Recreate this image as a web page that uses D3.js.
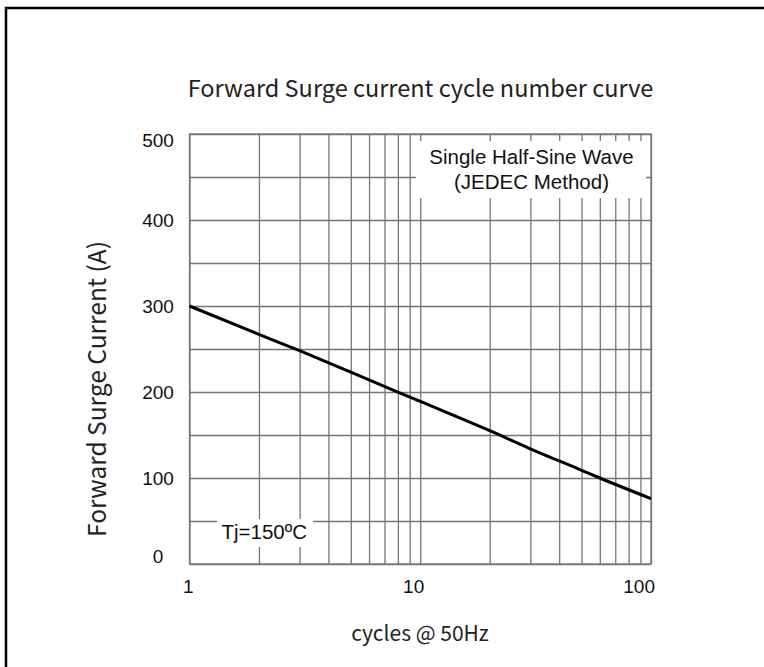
<!DOCTYPE html>
<html>
<head>
<meta charset="utf-8">
<script src="https://cdn.jsdelivr.net/npm/d3@7"></script>
<style>
  body { margin: 0; background: #fff; overflow: hidden; }
  svg { display: block; }
</style>
</head>
<body>
<div id="chart"></div>
<script>
// surge current vs number of cycles
const cycles = [1, 2, 3, 5, 10, 20, 30, 50, 60, 100];
const surgeAmps = [300, 267, 248, 223, 189, 155, 134, 109, 100, 76];

const xTickValues = [1, 10, 100];
const xTickLabels = ["1", "10", "100"];
const yTickValues = [0, 100, 200, 300, 400, 500];
const yTickLabels = ["0", "100", "200", "300", "400", "500"];
const xGridValues = [1, 2, 3, 4, 5, 6, 7, 8, 9, 10, 20, 30, 40, 50, 60, 70, 80, 90, 100];
const yGridValues = [0, 50, 100, 150, 200, 250, 300, 350, 400, 450, 500];

const width = 764, height = 667;
const plotLeft = 189.5, plotRight = 651, plotTop = 134, plotBottom = 564;

const svg = d3.select("#chart").append("svg")
  .attr("width", width)
  .attr("height", height);

// outer frame: only the left and top edges are in view
svg.append("path")
  .attr("d", `M6,${height + 5}V8H${width + 5}`)
  .attr("fill", "none")
  .attr("stroke", "#000")
  .attr("stroke-width", 2.5);

const x = d3.scaleLog().domain([1, 100]).range([plotLeft, plotRight]);
const y = d3.scaleLinear().domain([0, 500]).range([plotBottom, plotTop]);

// grid via axes
const gx = svg.append("g")
  .attr("transform", `translate(0,${plotBottom})`)
  .call(d3.axisBottom(x).tickValues(xGridValues).tickSize(-(plotBottom - plotTop)).tickFormat(""));
const gy = svg.append("g")
  .attr("transform", `translate(${plotLeft},0)`)
  .call(d3.axisLeft(y).tickValues(yGridValues).tickSize(-(plotRight - plotLeft)).tickFormat(""));
[gx, gy].forEach(g => {
  g.select(".domain").remove();
  g.selectAll(".tick line").attr("stroke", "#767676").attr("stroke-width", 1.3);
});
svg.append("rect")
  .attr("x", plotLeft).attr("y", plotTop)
  .attr("width", plotRight - plotLeft).attr("height", plotBottom - plotTop)
  .attr("fill", "none").attr("stroke", "#767676").attr("stroke-width", 1.3);

// the curve
const line = d3.line()
  .x((d, i) => x(cycles[i]))
  .y(d => y(d))
  .curve(d3.curveMonotoneX);
svg.append("path")
  .datum(surgeAmps)
  .attr("fill", "none")
  .attr("stroke", "#000")
  .attr("stroke-width", 3)
  .attr("d", line);

// legend boxes knock out the grid
svg.append("rect").attr("x", 416).attr("y", 141).attr("width", 230).attr("height", 57).attr("fill", "#fff");
svg.append("rect").attr("x", 217).attr("y", 519).attr("width", 96).attr("height", 28).attr("fill", "#fff");

const arial = "'Liberation Sans', Arial, sans-serif";
const noto = "'Noto Sans CJK SC', 'Noto Sans', sans-serif";

svg.append("text")
  .attr("x", 531.5).attr("y", 163.5)
  .attr("text-anchor", "middle")
  .attr("font-family", arial).attr("font-size", 20.5).attr("fill", "#111")
  .text("Single Half-Sine Wave");
svg.append("text")
  .attr("x", 531.5).attr("y", 188.5)
  .attr("text-anchor", "middle")
  .attr("font-family", arial).attr("font-size", 20.5).attr("fill", "#111")
  .text("(JEDEC Method)");
svg.append("text")
  .attr("x", 221.5).attr("y", 538.5)
  .attr("font-family", arial).attr("font-size", 20.5).attr("fill", "#111")
  .text("Tj=150ºC");

// tick labels
svg.append("g").selectAll("text")
  .data(xTickValues)
  .join("text")
  .attr("x", d => x(d) + 4)
  .attr("y", 593)
  .attr("text-anchor", "end")
  .attr("font-family", arial).attr("font-size", 19).attr("fill", "#111")
  .text((d, i) => xTickLabels[i]);

svg.append("g").selectAll("text")
  .data(yTickValues)
  .join("text")
  .attr("x", 158)
  .attr("y", d => y(d) + (d === 500 ? 13 : d === 0 ? -1 : 7))
  .attr("text-anchor", "middle")
  .attr("font-family", arial).attr("font-size", 19).attr("fill", "#111")
  .text((d, i) => yTickLabels[i]);

// titles
svg.append("text")
  .attr("x", 420.5).attr("y", 97)
  .attr("text-anchor", "middle")
  .attr("font-family", noto).attr("font-size", 23.5).attr("fill", "#222")
  .text("Forward Surge current cycle number curve");
svg.append("text")
  .attr("x", 420).attr("y", 641)
  .attr("text-anchor", "middle")
  .attr("font-family", noto).attr("font-size", 21).attr("fill", "#222")
  .text("cycles @ 50Hz");
svg.append("text")
  .attr("transform", "translate(106,389) rotate(-90)")
  .attr("text-anchor", "middle")
  .attr("font-family", noto).attr("font-size", 24.5).attr("fill", "#222")
  .text("Forward Surge Current (A)");
</script>
</body>
</html>
